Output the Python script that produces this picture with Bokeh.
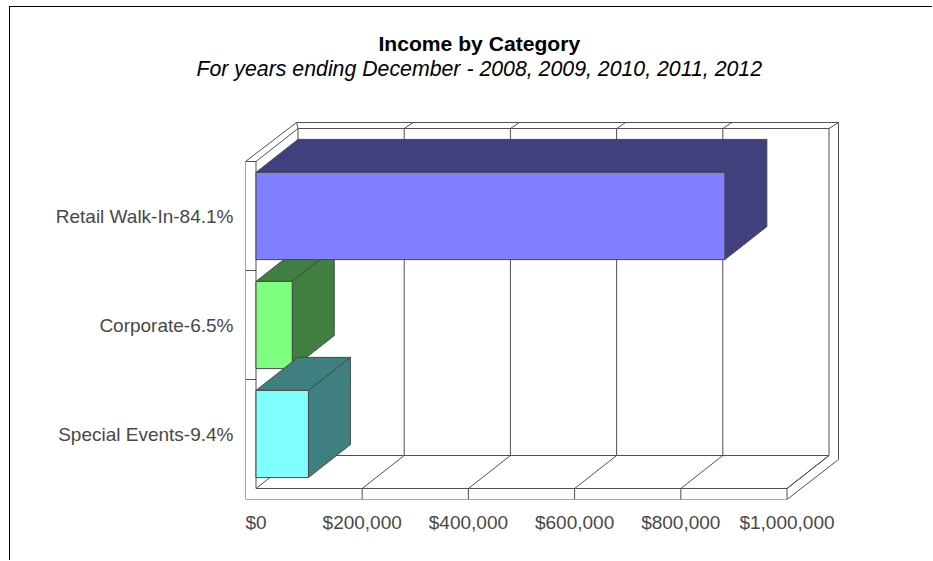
from bokeh.embed import file_html
from bokeh.models import FixedTicker, NumeralTickFormatter, Range1d, Title
from bokeh.plotting import figure
from bokeh.resources import INLINE

# Chart data, drawn bottom to top along the category axis
categories = ["Special Events-9.4%", "Corporate-6.5%", "Retail Walk-In-84.1%"]
income = [98700, 68250, 883000]
face_colors = ["#7FFFFF", "#7FFF7F", "#7F7FFF"]
side_colors = ["#407F7F", "#407F40", "#40407F"]
value_ticks = [0, 200000, 400000, 600000, 800000, 1000000]
title_text = "Income by Category"
subtitle_text = "For years ending December - 2008, 2009, 2010, 2011, 2012"

# Window geometry; the figure sits inside a thin page border
WIDTH, HEIGHT = 933, 561
BORDER_X, BORDER_Y = 9, 6
OFF_X, OFF_Y = BORDER_X + 1, BORDER_Y + 1
FRAME_LEFT, FRAME_BOTTOM, FRAME_TOP = 245, 499, 80
ZERO_X, PX_PER_VALUE = 255.5, 531.0 / 1000000
BASE_Y, PX_PER_BAND = 488.0, 109.0


def vx(px):
    """Window x to axis value."""
    return (px - ZERO_X) / PX_PER_VALUE


def by(px):
    """Window y to category band units."""
    return (BASE_Y - px) / PX_PER_BAND


# Pseudo-3D depth, in axis units
DEPTH_X = 42 / PX_PER_VALUE
DEPTH_Y = 33 / PX_PER_BAND
BAR_HALF = 0.4
LINE = "#505050"
TEXT = "#484848"

p = figure(
    width=WIDTH - OFF_X, height=HEIGHT - OFF_Y, output_backend="svg", toolbar_location=None,
    x_range=Range1d(vx(FRAME_LEFT), vx(WIDTH)), y_range=Range1d(by(FRAME_BOTTOM), by(FRAME_TOP)),
    min_border_left=FRAME_LEFT - OFF_X, min_border_right=0, min_border_top=FRAME_TOP - OFF_Y,
    min_border_bottom=HEIGHT - FRAME_BOTTOM, outline_line_color=None, background_fill_color="white",
    margin=(BORDER_Y, 0, 0, BORDER_X),
    styles={"border-top": "1px solid black", "border-left": "1px solid black"},
)
p.grid.visible = False

p.xaxis.ticker = FixedTicker(ticks=value_ticks)
p.xaxis.formatter = NumeralTickFormatter(format="$0,0")
p.yaxis.ticker = FixedTicker(ticks=[i + 0.5 for i in range(len(categories))])
p.yaxis.major_label_overrides = {i + 0.5: c for i, c in enumerate(categories)}
for axis in (p.xaxis, p.yaxis):
    axis.axis_line_color = None
    axis.major_tick_line_color = None
    axis.minor_tick_line_color = None
    axis.major_label_text_font = "Liberation Sans"
    axis.major_label_text_font_size = "19px"
    axis.major_label_text_color = TEXT
p.xaxis.major_label_standoff = 6
p.yaxis.major_label_standoff = 6


def seg(x0, y0, x1, y1):
    p.line([x0, x1], [y0, y1], line_color=LINE, line_width=1)


# Walls and floor of the box
max_v = value_ticks[-1]
wall_left = vx(245)
outer_top = by(122)
outer_floor_y = by(499)
outer_right = vx(838)
top = 3.0
back_top = top + DEPTH_Y

seg(wall_left, outer_floor_y, max_v, outer_floor_y)
seg(wall_left, outer_floor_y, wall_left, top)
seg(wall_left, top, 0, top)
seg(0, 0, 0, top)
seg(0, 0, max_v, 0)
seg(max_v, 0, max_v, outer_floor_y)
seg(max_v, outer_floor_y, outer_right, by(459))
seg(max_v, 0, max_v + DEPTH_X, DEPTH_Y)
seg(wall_left, top, vx(296), outer_top)
seg(vx(296), outer_top, outer_right, outer_top)
seg(outer_right, outer_top, outer_right, by(459))
seg(0, top, DEPTH_X, back_top)
seg(vx(296), outer_top, DEPTH_X, back_top)
seg(DEPTH_X, back_top, max_v + DEPTH_X, back_top)
seg(DEPTH_X, DEPTH_Y, max_v + DEPTH_X, DEPTH_Y)
seg(DEPTH_X, DEPTH_Y, DEPTH_X, back_top)
seg(max_v + DEPTH_X, DEPTH_Y, max_v + DEPTH_X, back_top)
seg(max_v + DEPTH_X, back_top, outer_right, outer_top)

for band in (1, 2):
    seg(wall_left, band, 0, band)

for v in value_ticks:
    seg(v, 0, v + DEPTH_X, DEPTH_Y)
for v in value_ticks[1:-1]:
    seg(v, 0, v, outer_floor_y)
    seg(v + DEPTH_X, DEPTH_Y, v + DEPTH_X, back_top)
    seg(v + DEPTH_X, back_top, v + DEPTH_X + 9 / PX_PER_VALUE, outer_top)

# Bars: the middle one sits behind both of its neighbours
for i in (1, 0, 2):
    v = income[i]
    lo, hi = i + 0.5 - BAR_HALF, i + 0.5 + BAR_HALF
    style = dict(line_color="#484848", line_width=1)
    p.patch([0, v, v + DEPTH_X, DEPTH_X], [hi, hi, hi + DEPTH_Y, hi + DEPTH_Y],
            fill_color=side_colors[i], **style)
    p.patch([v, v + DEPTH_X, v + DEPTH_X, v], [lo, lo + DEPTH_Y, hi + DEPTH_Y, hi],
            fill_color=side_colors[i], **style)
    p.patch([0, v, v, 0], [lo, lo, hi, hi], fill_color=face_colors[i], **style)

# Headings, stacked upward from the frame
p.add_layout(Title(text=subtitle_text, align="left", offset=196 - FRAME_LEFT, standoff=0,
                   text_font="Liberation Sans", text_font_style="italic", text_font_size="21.3px",
                   text_color="black"), "above")
p.add_layout(Title(text=title_text, align="left", offset=378 - FRAME_LEFT, standoff=0,
                   text_font="Liberation Sans", text_font_style="bold", text_font_size="21.1px",
                   text_color="black"), "above")

open("out.html", "w").write(file_html(p, INLINE))
